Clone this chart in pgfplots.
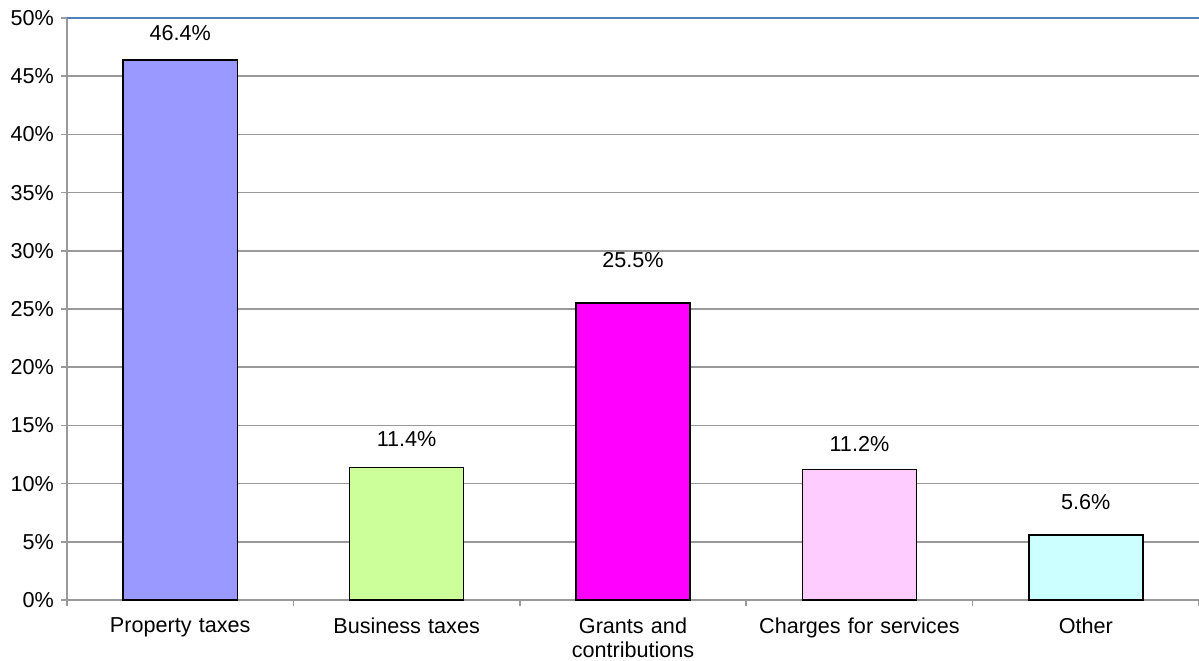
\documentclass[border=0pt]{standalone}
\usepackage{pgfplots}
\pgfplotsset{compat=1.18}
\usepackage{fontspec}
\setmainfont{Liberation Sans}
\definecolor{c1}{HTML}{9999FF}
\definecolor{c2}{HTML}{CCFF99}
\definecolor{c3}{HTML}{FF00FF}
\definecolor{c4}{HTML}{FFCCFF}
\definecolor{c5}{HTML}{CCFFFF}
\definecolor{gridgray}{HTML}{999999}
\definecolor{topblue}{HTML}{4F81BD}
\begin{document}
\begin{tikzpicture}
\path[use as bounding box] (-33.5pt,-30pt) rectangle (566pt,300pt);
\begin{axis}[
  at={(0,0)}, anchor=south west,
  scale only axis, width=566pt, height=291pt,
  xmin=-0.5, xmax=4.5, ymin=0, ymax=50,
  axis x line*=bottom, axis y line*=left,
  axis line style={gridgray, line width=0.8pt},
  xtick={0,1,2,3,4},
  xticklabels={Property taxes, Business taxes, {Grants and\\contributions}, Charges for services, Other},
  xticklabel style={align=center, text width=120pt, font=\fontsize{10.8}{12}\selectfont, yshift=-2.5pt},
  major x tick style={draw=none},
  minor xtick={-0.5,0.5,1.5,2.5,3.5,4.5},
  minor x tick style={gridgray, line width=0.8pt},
  ytick={0,5,...,50},
  yticklabel={\pgfmathprintnumber{\tick}\%},
  yticklabel style={font=\fontsize{10.8}{12}\selectfont},
  /pgf/number format/assume math mode=true,
  ymajorgrids, grid style={gridgray, line width=0.8pt},
  major y tick style={gridgray, line width=0.8pt},
  tick align=outside,
  major tick length=3pt, minor tick length=3pt,
  clip=false,
  ybar, bar width=57pt, bar shift=0pt,
  nodes near coords={\pgfmathprintnumber[fixed,precision=1,fixed zerofill]{\pgfplotspointmeta}\%},
  nodes near coords style={font=\fontsize{10.8}{12}\selectfont, /pgf/number format/assume math mode=true},
  every axis plot/.append style={draw=black, line width=0.7pt},
]
\addplot[fill=c1, nodes near coords style={yshift=6pt}] coordinates {(0,46.4)};
\addplot[fill=c2, nodes near coords style={yshift=6.5pt}] coordinates {(1,11.4)};
\addplot[fill=c3, nodes near coords style={yshift=14pt}] coordinates {(2,25.5)};
\addplot[fill=c4, nodes near coords style={yshift=5.5pt}] coordinates {(3,11.2)};
\addplot[fill=c5, nodes near coords style={yshift=9pt}] coordinates {(4,5.6)};
\draw[topblue, line width=1pt] (rel axis cs:0,1) -- (rel axis cs:1,1);
\end{axis}
\end{tikzpicture}
\end{document}
